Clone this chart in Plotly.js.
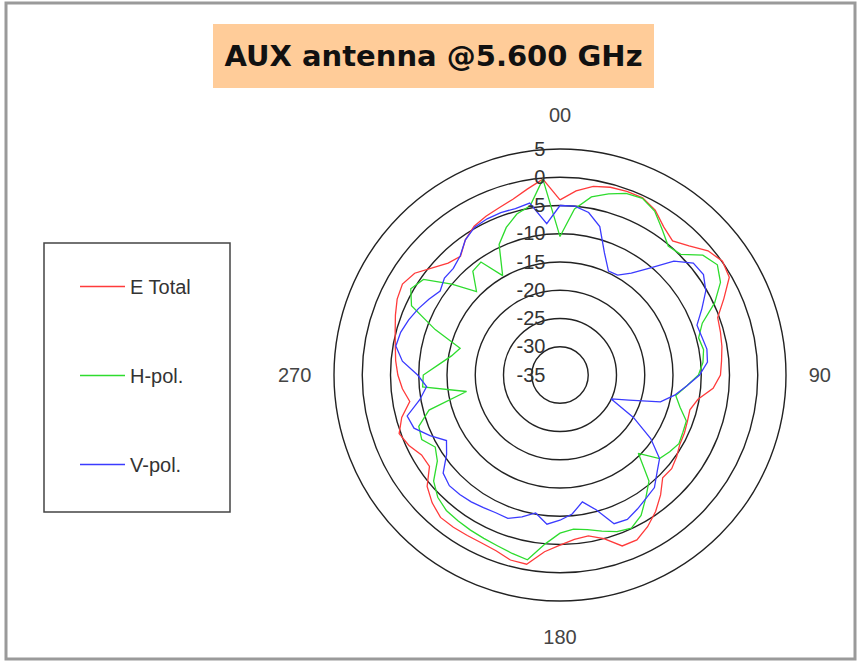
<!DOCTYPE html>
<html>
<head>
<meta charset="utf-8">
<script src="https://cdn.plot.ly/plotly-3.0.1.min.js"></script>
<style>html,body{margin:0;padding:0;background:#fff;}#chart{width:859px;height:662px;}</style>
</head>
<body>
<div id="chart"></div>
<script>
// Angles (degrees, clockwise from top)
const angles = [0,5,10,15,20,25,30,35,40,45,50,55,60,65,70,75,80,85,90,95,100,105,110,115,
  120,125,130,135,140,145,150,155,160,165,170,175,180,185,190,195,200,205,210,215,220,225,230,235,
  240,245,250,255,260,265,270,275,280,285,290,295,300,305,310,315,320,325,330,335,340,345,350,355];

// E Total (dB)
const eTotal = [-4.0,-2.3,-1.1,-0.6,-0.4,-0.4,-1.3,-3.0,-4.0,-2.7,-0.8,0.1,
  -0.4,-3.0,-5.3,-5.6,-5.9,-6.3,-6.6,-7.8,-10.2,-11.2,-11.0,-10.7,
  -10.5,-9.8,-9.2,-9.3,-7.3,-5.5,-4.0,-2.8,-2.8,-5.0,-6.1,-5.8,
  -4.9,-3.6,-1.0,-1.1,-1.9,-2.2,-2.2,-2.1,-2.1,-3.0,-4.3,-6.8,
  -6.7,-5.5,-4.7,-6.0,-8.0,-7.0,-6.3,-5.8,-5.4,-4.8,-4.0,-3.2,
  -2.8,-3.6,-5.5,-7.0,-7.6,-5.8,-4.6,-4.0,-3.5,-2.8,-1.6,-0.2];

// H-pol. (dB)
const hPol = [-10.5,-5.5,-3.0,-1.8,-0.8,-0.5,-1.5,-3.5,-5.2,-4.8,-2.0,-1.0,
  -2.2,-4.8,-8.2,-9.6,-9.2,-9.6,-10.5,-12.5,-14.2,-13.0,-11.2,-11.0,
  -10.7,-11.3,-12.0,-15.4,-10.5,-8.5,-6.3,-5.1,-5.5,-6.4,-7.2,-7.6,
  -7.0,-5.0,-1.8,-2.3,-2.8,-3.1,-3.3,-3.5,-3.7,-4.4,-5.8,-8.5,
  -9.5,-8.0,-8.4,-11.0,-18.2,-10.6,-10.8,-13.5,-15.5,-16.7,-11.5,-6.0,
  -4.5,-5.5,-10.0,-14.1,-11.0,-10.6,-14.7,-9.5,-7.2,-5.5,-4.6,-0.2];

// V-pol. (dB)
const vPol = [-5.0,-5.0,-5.8,-7.8,-12.0,-14.7,-14.6,-13.0,-10.3,-6.5,-4.2,-4.0,
  -5.2,-7.3,-9.2,-9.0,-8.6,-8.8,-10.3,-12.5,-14.4,-16.6,-22.0,-25.0,
  -20.0,-15.4,-12.0,-10.7,-9.0,-8.4,-7.6,-6.8,-7.0,-10.3,-12.2,-10.3,
  -9.3,-8.5,-10.2,-9.0,-8.0,-8.1,-7.9,-7.6,-7.4,-7.3,-8.0,-10.5,
  -11.8,-9.6,-7.5,-7.0,-9.8,-11.3,-9.8,-7.0,-5.5,-5.8,-6.5,-7.3,
  -8.2,-9.1,-8.3,-8.3,-7.5,-5.8,-4.8,-4.5,-4.4,-4.5,-4.1,-8.1];

const seriesNames = ['E Total', 'H-pol.', 'V-pol.'];
const seriesColors = ['#ff3b3b', '#2edc2e', '#3b3bff'];
const angTickVals = [0, 90, 180, 270];
const angTickText = ['00', '90', '180', '270'];
const radTickVals = [-35, -30, -25, -20, -15, -10, -5, 0, 5];
const radTickText = ['-35', '-30', '-25', '-20', '-15', '-10', '-5', '0', '5'];
const titleText = 'AUX antenna @5.600 GHz';

const W = 859, H = 662;
const px = x => x / W;
const py = y => 1 - y / H;

function closeLoop(a) { return a.concat([a[0]]); }

const traces = [eTotal, hPol, vPol].map((vals, i) => ({
  type: 'scatterpolar',
  mode: 'lines',
  theta: closeLoop(angles),
  r: closeLoop(vals),
  name: seriesNames[i],
  legendgroup: 'g' + i,
  line: { color: seriesColors[i], width: 1.3 },
  hoverinfo: 'skip'
}));

const cx = 560, cy = 375, R = 226;

const layout = {
  width: W, height: H,
  margin: { l: 0, r: 0, t: 0, b: 0 },
  paper_bgcolor: '#ffffff',
  font: { family: '"Liberation Sans", Arial, sans-serif', color: '#333' },
  showlegend: true,
  legend: {
    x: px(75), y: py(267), xanchor: 'left', yanchor: 'top',
    bgcolor: 'rgba(0,0,0,0)', borderwidth: 0,
    font: { size: 20, color: '#333' },
    itemwidth: 45,
    tracegroupgap: 60
  },
  polar: {
    domain: { x: [px(cx - R), px(cx + R)], y: [py(cy + R), py(cy - R)] },
    bgcolor: '#ffffff',
    radialaxis: {
      range: [-35, 5],
      tickmode: 'array', tickvals: radTickVals,
      ticktext: radTickText.map(t => t + '\u2007'),
      angle: 90, side: 'counterclockwise',
      showline: false, ticks: '',
      showgrid: true, gridcolor: '#222', gridwidth: 1.4,
      tickfont: { size: 20, color: '#333' },
      tickangle: 90
    },
    angularaxis: {
      rotation: 90, direction: 'clockwise',
      tickmode: 'array', tickvals: angTickVals, ticktext: angTickText,
      showgrid: false, showline: true, linecolor: '#222', linewidth: 1.4,
      ticks: 'outside', ticklen: 18, tickcolor: 'rgba(0,0,0,0)',
      tickfont: { size: 20, color: '#444' }
    }
  },
  shapes: [
    { type: 'rect', xref: 'paper', yref: 'paper', x0: px(6), x1: px(855), y0: py(659), y1: py(3),
      line: { color: '#9a9a9a', width: 3 }, fillcolor: 'rgba(0,0,0,0)' },
    { type: 'rect', xref: 'paper', yref: 'paper', x0: px(44), x1: px(230), y0: py(512), y1: py(243),
      line: { color: '#444', width: 1.5 }, fillcolor: 'rgba(0,0,0,0)' }
  ],
  annotations: [
    { xref: 'paper', yref: 'paper', x: px(433.5), y: py(56), xanchor: 'center', yanchor: 'middle',
      text: '<b>' + titleText + '</b>', showarrow: false,
      font: { family: '"DejaVu Sans", sans-serif', size: 29, color: '#111' },
      bgcolor: '#ffcc99', width: 441, height: 64, borderpad: 0, borderwidth: 0 }
  ]
};

Plotly.newPlot('chart', traces, layout, { displayModeBar: false, staticPlot: true });
</script>
</body>
</html>
